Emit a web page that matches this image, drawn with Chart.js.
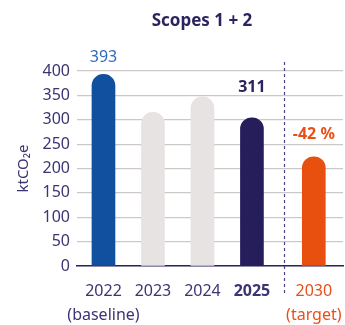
<!DOCTYPE html>
<html>
<head>
<meta charset="utf-8">
<script src="https://cdn.jsdelivr.net/npm/chart.js@4"></script>
<style>
  body { margin: 0; background: #fff; }
  #wrap { width: 345px; height: 325px; }
</style>
</head>
<body>
<div id="wrap"><canvas id="scopes_chart"></canvas></div>
<script>
// データ
const chartTitle = 'Scopes 1 + 2';
const years = ['2022', '2023', '2024', '2025', '2030'];
const subLabels = ['(baseline)', '', '', '', '(target)'];
const xPos = [0, 1, 2, 3, 4.25];          // 2030 is set apart after the divider
const emissions = [393, 315, 347, 304, 224];
const valueLabels = ['393', '', '', '311', '-42 %'];
const yTicks = [0, 50, 100, 150, 200, 250, 300, 350, 400];
const dividerAt = 3.65;

const navy = '#2b2461';
const textNavy = '#3a3472';
const orange = '#e8501a';
const barColors = ['#11509f', '#e7e3e2', '#e7e3e2', '#261d5b', '#e8500f'];
const labelColors = ['#2f6db8', navy, navy, navy, orange];
const labelWeights = ['normal', 'bold', 'bold', 'bold', 'bold'];
const labelOffsets = [17, 0, 0, 30, 22];
const fontFamily = '"Noto Sans", sans-serif';

// タイトル・区切り線・数値ラベル
const extras = {
  id: 'extras',
  afterDatasetsDraw(chart) {
    const { ctx, scales: { x, y } } = chart;
    ctx.save();
    // title
    ctx.fillStyle = navy;
    ctx.font = 'bold 17px ' + fontFamily;
    ctx.textAlign = 'center';
    ctx.textBaseline = 'middle';
    ctx.fillText(chartTitle, 202, 21);
    // dashed divider
    const dx = Math.round(x.getPixelForValue(dividerAt)) + 0.5;
    ctx.strokeStyle = '#4a4385';
    ctx.lineWidth = 1.2;
    ctx.setLineDash([3, 3]);
    ctx.beginPath();
    ctx.moveTo(dx, 62);
    ctx.lineTo(dx, 296);
    ctx.stroke();
    ctx.setLineDash([]);
    // value labels
    valueLabels.forEach((t, i) => {
      if (!t) return;
      ctx.fillStyle = labelColors[i];
      ctx.font = labelWeights[i] + ' 16px ' + fontFamily;
      ctx.fillText(t, x.getPixelForValue(xPos[i]), y.getPixelForValue(emissions[i]) - labelOffsets[i]);
    });
    ctx.restore();
  }
};

new Chart(document.getElementById('scopes_chart'), {
  type: 'bar',
  data: {
    datasets: [{
      data: xPos.map((v, i) => ({ x: v, y: emissions[i] })),
      backgroundColor: barColors,
      barThickness: 23,
      borderRadius: 12,
      borderSkipped: 'start',
    }]
  },
  plugins: [extras],
  options: {
    responsive: true,
    maintainAspectRatio: false,
    animation: false,
    layout: { padding: { top: 71, right: 2, left: 0, bottom: 0 } },
    plugins: {
      legend: { display: false },
      tooltip: { enabled: false },
    },
    scales: {
      x: {
        type: 'linear',
        offset: false,
        min: -0.535,
        max: 4.84,
        afterBuildTicks: (s) => { s.ticks = xPos.map(v => ({ value: v })); },
        afterFit: (s) => { s.height = 59; s.paddingLeft = 0; s.paddingRight = 0; },
        grid: { display: false, drawTicks: false },
        border: { color: navy, width: 1.5 },
        ticks: {
          autoSkip: false,
          maxRotation: 0,
          padding: 13,
          callback: (v, i) => subLabels[i] ? [years[i], subLabels[i]] : years[i],
          color: (c) => c.index === 4 ? orange : textNavy,
          font: (c) => ({ size: 16, family: fontFamily, lineHeight: 1.5, weight: c.index === 3 ? 'bold' : 'normal' }),
        }
      },
      y: {
        min: 0,
        max: 400,
        afterBuildTicks: (s) => { s.ticks = yTicks.map(v => ({ value: v })); },
        afterFit: (s) => { s.width = 77; s.paddingTop = 0; s.paddingBottom = 0; },
        grid: { color: '#cdc8c8', lineWidth: 1.2, drawTicks: false },
        border: { display: false },
        ticks: {
          padding: 7,
          color: textNavy,
          font: { size: 16, family: fontFamily },
        },
        title: {
          display: true,
          text: 'ktCO₂e',
          color: textNavy,
          padding: { top: 15, bottom: 4 },
          font: { size: 15, family: fontFamily },
        }
      }
    }
  }
});
</script>
</body>
</html>
